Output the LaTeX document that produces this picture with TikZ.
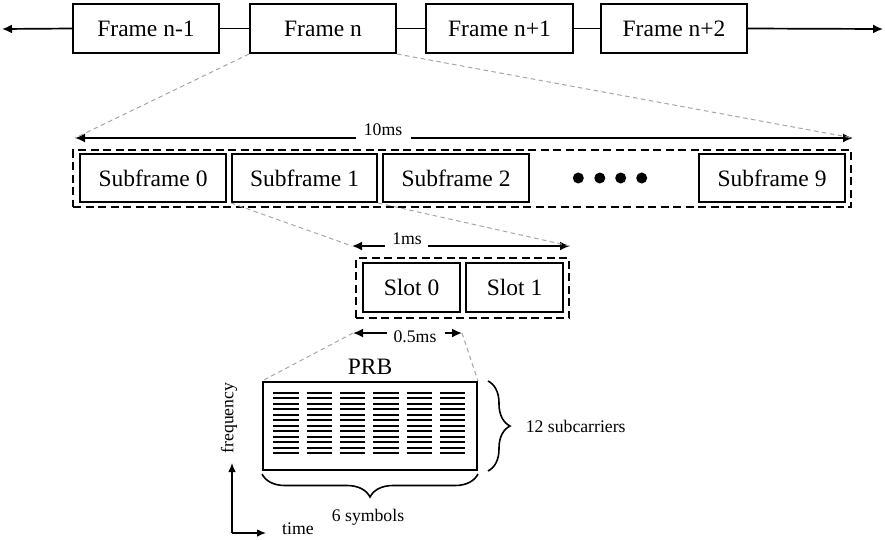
\documentclass[tikz,border=0pt]{standalone}
\usepackage{fontspec}
\setmainfont{Liberation Serif}
\usetikzlibrary{arrows.meta,decorations.pathreplacing}

\begin{document}
\begin{tikzpicture}[x=1pt,y=-1pt,
  bigfont/.style={font=\fontsize{23.5}{28}\selectfont},
  smallfont/.style={font=\fontsize{17.7}{21}\selectfont},
  box/.style={draw, line width=2pt, inner sep=0pt, bigfont},
  groupbox/.style={draw, line width=2pt, dash pattern=on 8pt off 4.5pt, inner sep=0pt},
  arr/.style={-{Latex[length=10pt,width=9pt]}, line width=1.7pt},
  zoomline/.style={draw=gray!70, line width=1pt, dash pattern=on 4.5pt off 3.5pt},
  label/.style={smallfont, inner sep=0pt, anchor=base},
  grid/.style={line width=2.3pt},
  bracestyle/.style={decorate, line width=1.6pt}
]
\useasboundingbox (0,0) rectangle (885,539);

% ---------- frame sequence ----------
\node[box, minimum width=146, minimum height=49] (f1) at (146,28.5) {Frame n-1};
\node[box, minimum width=146, minimum height=49] (f2) at (323,28.5) {Frame n};
\node[box, minimum width=147, minimum height=49] (f3) at (499.5,28.5) {Frame n+1};
\node[box, minimum width=146, minimum height=49] (f4) at (674,28.5) {Frame n+2};
\coordinate (tl) at (2,29);
\coordinate (tr) at (883,29);
\draw[arr] (f1.west) -- (tl);
\draw[line width=1.7pt] (f1.east) -- (f2.west);
\draw[line width=1.7pt] (f2.east) -- (f3.west);
\draw[line width=1.7pt] (f3.east) -- (f4.west);
\draw[arr] (f4.east) -- (tr);

% ---------- 10 ms span ----------
\coordinate (l10) at (75,138);
\coordinate (r10) at (853,138);
\node[label] (t10) at (383,135) {10ms};
\draw[arr] ([xshift=-8pt]t10.west |- l10) -- (l10);
\draw[arr] ([xshift=9pt]t10.east |- r10) -- (r10);
\draw[zoomline] (f2.south west) -- (l10);
\draw[zoomline] (f2.south east) -- (r10);

% ---------- subframes ----------
\node[groupbox, minimum width=778, minimum height=57] (sfg) at (462,178.5) {};
\node[box, minimum width=146, minimum height=48] (sf0) at (153,178) {Subframe 0};
\node[box, minimum width=145, minimum height=48] (sf1) at (304.5,178) {Subframe 1};
\node[box, minimum width=146, minimum height=48] (sf2) at (456,178) {Subframe 2};
\node[box, minimum width=146, minimum height=48] (sf9) at (772,178) {Subframe 9};
\foreach \x in {578.3,599.8,620.7,641.7}
  \fill (\x,178) circle (5.5);

% ---------- 1 ms span ----------
\coordinate (l1) at (352,246);
\coordinate (r1) at (570,246);
\node[label] (t1) at (407,244) {1ms};
\draw[arr] ([xshift=-7pt]t1.west |- l1) -- (l1);
\draw[arr] ([xshift=6pt]t1.east |- r1) -- (r1);
\draw[zoomline] (sf1.south west) -- (l1);
\draw[zoomline] (sf1.south east) -- (r1);

% ---------- slots ----------
\node[groupbox, minimum width=213, minimum height=60] (slg) at (462.5,288) {};
\node[box, minimum width=97, minimum height=49] (s0) at (411.5,287.5) {Slot 0};
\node[box, minimum width=97, minimum height=49] (s1) at (514.5,287.5) {Slot 1};

% ---------- 0.5 ms span ----------
\coordinate (l05) at (353,333);
\coordinate (r05) at (462,333);
\node[label] (t05) at (415,342) {0.5ms};
\draw[arr] ([xshift=-6pt]t05.west |- l05) -- (l05);
\draw[arr] ([xshift=8pt]t05.east |- r05) -- (r05);

% ---------- physical resource block ----------
\node[bigfont, inner sep=0pt, anchor=base] (prbt) at (370,374) {PRB};
\node[draw, line width=2pt, minimum width=214, minimum height=88, inner sep=0pt] (prb) at (370,426) {};
\draw[zoomline] (l05) -- (prb.north west);
\draw[zoomline] (r05) -- (prb.north east);
\foreach \c in {0,...,5}
  \foreach \r in {0,...,11}
    \draw[grid] ({273.3+33.35*\c},{392.8+5.5*\r}) -- ++(25.2,0);

% braces
\draw[bracestyle, decoration={brace, amplitude=22pt}]
  ([xshift=10pt]prb.north east) -- ([xshift=10pt]prb.south east)
  node[midway, right=37pt, smallfont, inner sep=0pt] (sub) {12 subcarriers};
\draw[bracestyle, decoration={brace, amplitude=23pt}]
  ([yshift=-3pt]prb.south east) -- ([yshift=-3pt]prb.south west);
\node[label] (sym) at (368,521) {6 symbols};

% ---------- axes ----------
\coordinate (ax) at (232,533);
\coordinate (axf) at (232,463);
\coordinate (axt) at (266,533);
\draw[line width=1.1pt, -{Latex[length=9pt,width=7.5pt]}] (ax) -- (axf);
\draw[line width=1.1pt, -{Latex[length=9pt,width=7.5pt]}] (ax) -- (axt);
\node[label, anchor=base west] (tm) at (282,534) {time};
\node[smallfont, inner sep=0pt, rotate=90] (fq) at (229,418) {frequency};
\end{tikzpicture}
\end{document}
